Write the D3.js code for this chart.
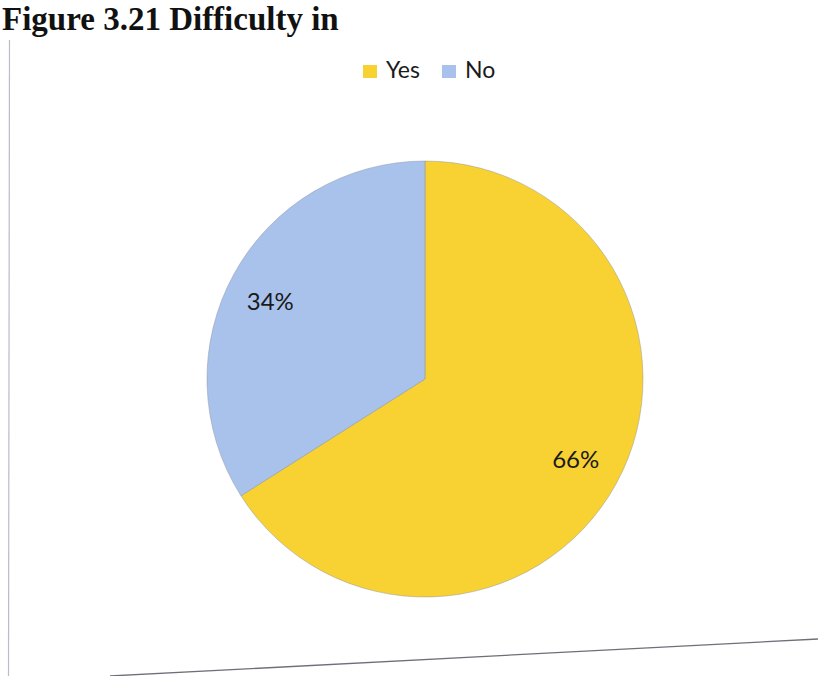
<!DOCTYPE html>
<html>
<head>
<meta charset="utf-8">
<script src="https://cdn.jsdelivr.net/npm/d3@7"></script>
<style>
  html, body { margin: 0; padding: 0; background: #ffffff; }
  svg { display: block; }
</style>
</head>
<body>
<svg id="chart" width="818" height="676"></svg>
<script>
// Survey answers and their shares (%)
const categories = ["Yes", "No"];
const values = [66, 34];
const colors = ["#F8D133", "#A9C2EC"];
const labels = ["66%", "34%"];
const figureTitle = "Figure 3.21 Difficulty in";

const svg = d3.select("#chart");
const W = 818, H = 676;

// Caption above the chart frame
svg.append("text")
  .attr("x", 2)
  .attr("y", 30)
  .attr("font-family", "'Liberation Serif', 'Times New Roman', serif")
  .attr("font-weight", "bold")
  .attr("font-size", 33)
  .attr("fill", "#111")
  .text(figureTitle);

// Chart frame edges
svg.append("line")
  .attr("x1", 9.5).attr("y1", 40).attr("x2", 8.5).attr("y2", H)
  .attr("stroke", "#b9bccb").attr("stroke-width", 1.2);
svg.append("line")
  .attr("x1", 110).attr("y1", 676).attr("x2", 818).attr("y2", 639)
  .attr("stroke", "#6f6f78").attr("stroke-width", 1.3);

// Pie
const cx = 425, cy = 379, r = 218;
const color = d3.scaleOrdinal().domain(categories).range(colors);
const data = categories.map((c, i) => ({ cat: c, value: values[i], label: labels[i] }));
const pie = d3.pie().value(d => d.value).sort(null);
const arc = d3.arc().innerRadius(0).outerRadius(r);
const labelArc = d3.arc().innerRadius(172).outerRadius(172);

const g = svg.append("g").attr("transform", `translate(${cx},${cy})`);
const arcs = pie(data);

g.selectAll("path.slice")
  .data(arcs)
  .join("path")
  .attr("class", "slice")
  .attr("d", arc)
  .attr("fill", d => color(d.data.cat))
  .attr("stroke", "#8a90a0")
  .attr("stroke-opacity", 0.45)
  .attr("stroke-width", 1);

g.selectAll("text.pct")
  .data(arcs)
  .join("text")
  .attr("class", "pct")
  .attr("transform", d => `translate(${labelArc.centroid(d)})`)
  .attr("dx", d => d.data.cat === "No" ? -4 : 0)
  .attr("dy", d => d.data.cat === "No" ? 4 : -3)
  .attr("text-anchor", "middle")
  .attr("dominant-baseline", "central")
  .attr("font-family", "Lato, 'Open Sans', sans-serif")
  .attr("font-size", 24)
  .attr("fill", "#1a1a1a")
  .text(d => d.data.label);

// Legend
const legendItems = [
  { cat: "Yes", x: 363 },
  { cat: "No", x: 442 }
];
const lg = svg.append("g");
legendItems.forEach(it => {
  lg.append("rect")
    .attr("x", it.x).attr("y", 65)
    .attr("width", 14).attr("height", 13)
    .attr("fill", color(it.cat));
  lg.append("text")
    .attr("x", it.x + 23).attr("y", 78)
    .attr("font-family", "Lato, 'Open Sans', sans-serif")
    .attr("font-size", 23)
    .attr("fill", "#1a1a1a")
    .text(it.cat);
});
</script>
</body>
</html>
